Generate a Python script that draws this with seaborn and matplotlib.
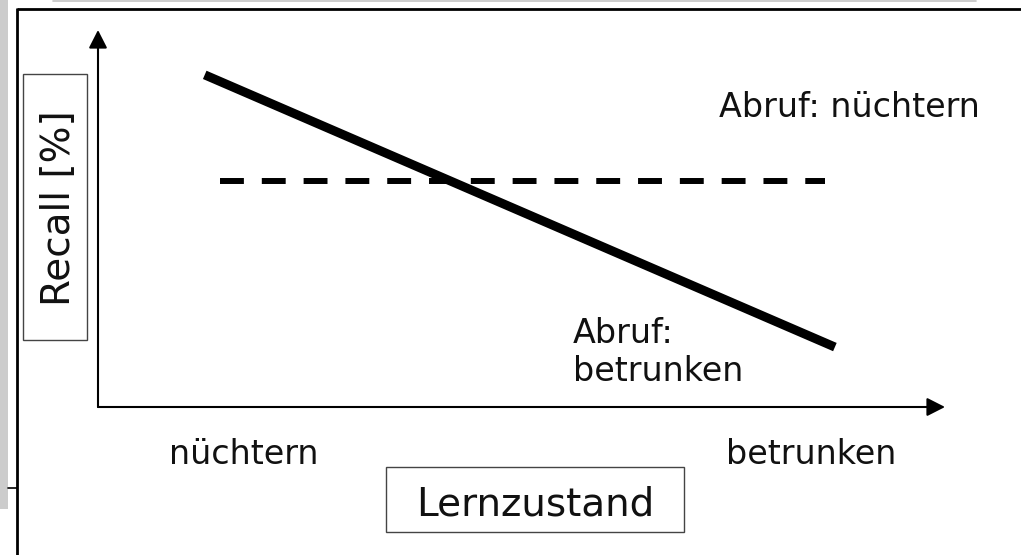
import pandas as pd
import matplotlib.pyplot as plt
import seaborn as sns
from matplotlib.patches import Rectangle

# Lernzustand on a 0..100 scale along the x arrow, Recall 0..100 up the y arrow
lern_solid = [12.6, 87.0]
recall_solid = [88.1, 15.9]
lern_dashed = [14.4, 85.8]
recall_dashed = [60.0, 60.0]

tick_pos = [17.2, 84.2]
tick_labels = ['nüchtern', 'betrunken']

sns.set_theme(style='white')
plt.rcParams['font.family'] = ['DejaVu Sans']

W, H = 1021, 555
fig = plt.figure(figsize=(W / 100, H / 100), dpi=100)
fig.patch.set_facecolor('white')

# overlay in pixel coordinates for the slide decorations
deco = fig.add_axes([0, 0, 1, 1])
deco.set_xlim(0, W)
deco.set_ylim(H, 0)
deco.axis('off')
deco.add_patch(Rectangle((0, 0), 8, 509, color='#cccccc', lw=0))
deco.plot([53, 976], [0.7, 0.7], color='#c4c4c4', lw=1.2)
deco.plot([17, W], [8.5, 8.5], color='black', lw=2.0, solid_capstyle='butt')
deco.plot([17, 17], [8, H], color='black', lw=2.0, solid_capstyle='butt')
deco.plot([8, 17], [488, 488], color='black', lw=1.2)
deco.add_patch(Rectangle((23, 74), 64, 266, fill=False, ec='#444444', lw=1.0))
deco.add_patch(Rectangle((386, 467), 298, 65, fill=False, ec='#444444', lw=1.0))
deco.text(70, 208, 'Recall [%]', rotation=90, rotation_mode='anchor',
          ha='center', va='baseline', fontsize=28, color='#111111')
deco.text(535, 516, 'Lernzustand', ha='center', va='baseline', fontsize=28, color='#111111')
deco.text(849, 117, 'Abruf: nüchtern', ha='center', va='baseline', fontsize=24, color='#111111')
deco.text(573, 343, 'Abruf:', ha='left', va='baseline', fontsize=24, color='#111111')
deco.text(573, 381, 'betrunken', ha='left', va='baseline', fontsize=24, color='#111111')

# plot area spanning the two axis arrows
ax = fig.add_axes([98 / W, (H - 407) / H, 847 / W, 377 / H])
ax.patch.set_alpha(0)
ax.set_xlim(0, 100)
ax.set_ylim(0, 100)

sns.lineplot(x=lern_solid, y=recall_solid, ax=ax, color='black',
             linewidth=6.5, solid_capstyle='butt')
sns.lineplot(x=lern_dashed, y=recall_dashed, ax=ax, color='black', linewidth=4.3)
ax.lines[-1].set_dashes((4, 3))
ax.lines[-1].set_dash_capstyle('butt')

arrow = dict(arrowstyle='-|>,head_length=0.55,head_width=0.28', color='black',
             lw=1.5, shrinkA=0, shrinkB=0, mutation_scale=20)
ax.annotate('', xy=(1, 0), xytext=(0, 0), xycoords='axes fraction', arrowprops=arrow)
ax.annotate('', xy=(0, 1), xytext=(0, 0), xycoords='axes fraction', arrowprops=arrow)

for s in ax.spines.values():
    s.set_visible(False)
ax.set_xticks(tick_pos, tick_labels, fontsize=24)
ax.set_yticks([])
ax.tick_params(axis='x', length=0, pad=22, colors='#111111')

fig.savefig('out.png', dpi=100)
